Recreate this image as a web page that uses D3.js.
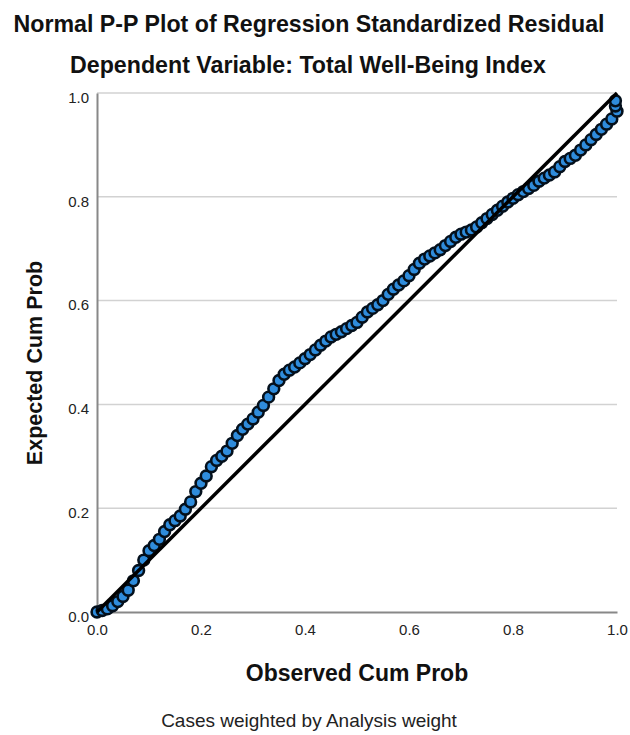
<!DOCTYPE html>
<html><head><meta charset="utf-8">
<script src="https://cdn.jsdelivr.net/npm/d3@7"></script>
<style>body{margin:0;background:#fff}svg{display:block}</style>
</head><body>
<svg id="c" width="630" height="735"></svg>
<script>
const titleText = "Normal P-P Plot of Regression Standardized Residual";
const subtitleText = "Dependent Variable: Total Well-Being Index";
const xTitle = "Observed Cum Prob";
const yTitle = "Expected Cum Prob";
const footText = "Cases weighted by Analysis weight";
const tickValues = [0, 0.2, 0.4, 0.6, 0.8, 1.0];
const refLine = [[0, 0], [1, 1]];
const observed = [0.00,0.01,0.02,0.03,0.04,0.05,0.06,0.07,0.08,0.09,
0.10,0.11,0.12,0.13,0.14,0.15,0.16,0.17,0.18,0.19,
0.20,0.21,0.22,0.23,0.24,0.25,0.26,0.27,0.28,0.29,
0.30,0.31,0.32,0.33,0.34,0.35,0.36,0.37,0.38,0.39,
0.40,0.41,0.42,0.43,0.44,0.45,0.46,0.47,0.48,0.49,
0.50,0.51,0.52,0.53,0.54,0.55,0.56,0.57,0.58,0.59,
0.60,0.61,0.62,0.63,0.64,0.65,0.66,0.67,0.68,0.69,
0.70,0.71,0.72,0.73,0.74,0.75,0.76,0.77,0.78,0.79,
0.80,0.81,0.82,0.83,0.84,0.85,0.86,0.87,0.88,0.89,
0.90,0.91,0.92,0.93,0.94,0.95,0.96,0.97,0.98,0.99,
1.00,0.997,0.997];
const expected = [0.000,0.003,0.006,0.012,0.020,0.030,0.042,0.060,0.080,0.100,
0.118,0.128,0.140,0.155,0.168,0.176,0.185,0.198,0.212,0.232,
0.248,0.262,0.280,0.292,0.300,0.310,0.325,0.340,0.352,0.362,
0.372,0.385,0.398,0.414,0.430,0.446,0.458,0.466,0.472,0.480,
0.488,0.496,0.505,0.514,0.522,0.530,0.535,0.540,0.546,0.552,
0.558,0.568,0.578,0.585,0.592,0.600,0.612,0.622,0.630,0.638,
0.648,0.660,0.672,0.680,0.686,0.692,0.698,0.706,0.714,0.722,
0.728,0.732,0.736,0.742,0.750,0.758,0.766,0.774,0.782,0.790,
0.797,0.804,0.810,0.816,0.822,0.830,0.836,0.842,0.848,0.858,
0.868,0.874,0.880,0.890,0.900,0.910,0.920,0.930,0.940,0.950,
0.965,0.975,0.985];

const svg = d3.select("#c");
const x = d3.scaleLinear().domain([0, 1]).range([97, 617]);
const y = d3.scaleLinear().domain([0, 1]).range([612, 93]);
const font = "'Liberation Sans', Arial, sans-serif";

svg.append("text").attr("x", 309).attr("y", 32).attr("text-anchor", "middle")
  .attr("font-family", font).attr("font-weight", "bold").attr("font-size", 23.2)
  .attr("fill", "#111").text(titleText);
svg.append("text").attr("x", 308).attr("y", 73).attr("text-anchor", "middle")
  .attr("font-family", font).attr("font-weight", "bold").attr("font-size", 23.2)
  .attr("fill", "#111").text(subtitleText);

// gridlines
svg.append("g").selectAll("line").data(tickValues.filter(d => d > 0)).join("line")
  .attr("x1", x(0)).attr("x2", x(1)).attr("y1", d => y(d)).attr("y2", d => y(d))
  .attr("stroke", "#d2d2d2").attr("stroke-width", 1.5);

// axes
const yAxis = d3.axisLeft(y).tickValues(tickValues).tickFormat(d3.format(".1f")).tickSize(0).tickPadding(8);
const xAxis = d3.axisBottom(x).tickValues(tickValues).tickFormat(d3.format(".1f")).tickSize(0).tickPadding(12);
const gy = svg.append("g").attr("transform", `translate(${x(0)},0)`).call(yAxis);
const gx = svg.append("g").attr("transform", `translate(0,${y(0)})`).call(xAxis);
[gx, gy].forEach(g => {
  g.select(".domain").attr("stroke", "#888").attr("stroke-width", 2);
  g.selectAll("text").attr("font-family", font).attr("font-size", 15).attr("fill", "#222");
});
gy.selectAll("text").attr("dy", "0.62em");

// points
const pts = observed.map((o, i) => ({o, e: expected[i]}));
svg.append("g").selectAll("circle").data(pts).join("circle")
  .attr("cx", d => x(d.o)).attr("cy", d => y(d.e)).attr("r", 5.4)
  .attr("fill", "#2f8cdc").attr("stroke", "#04101c").attr("stroke-width", 2.6);

// reference line
svg.append("path").datum(refLine)
  .attr("d", d3.line().x(d => x(d[0])).y(d => y(d[1])))
  .attr("stroke", "#000").attr("stroke-width", 3.5).attr("fill", "none");

svg.append("text").attr("x", 357).attr("y", 681).attr("text-anchor", "middle")
  .attr("font-family", font).attr("font-weight", "bold").attr("font-size", 23)
  .attr("fill", "#111").text(xTitle);
svg.append("text").attr("transform", "translate(42,363) rotate(-90)").attr("text-anchor", "middle")
  .attr("font-family", font).attr("font-weight", "bold").attr("font-size", 21.5)
  .attr("fill", "#111").text(yTitle);
svg.append("text").attr("x", 309).attr("y", 727).attr("text-anchor", "middle")
  .attr("font-family", font).attr("font-size", 19)
  .attr("fill", "#222").text(footText);
</script>
</body></html>
